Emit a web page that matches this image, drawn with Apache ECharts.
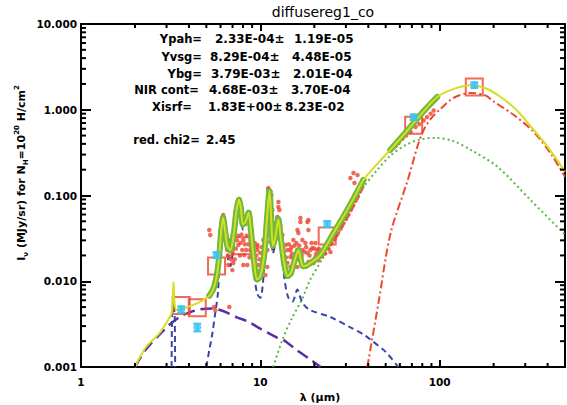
<!DOCTYPE html>
<html>
<head>
<meta charset="utf-8">
<script src="https://cdn.jsdelivr.net/npm/echarts@6/dist/echarts.min.js"></script>
<style>
html,body{margin:0;padding:0;background:#fff;}
#chart{width:567px;height:405px;}
</style>
</head>
<body>
<div id="chart"></div>
<script>
// ---- axis ticks and labels ----
const xRange = [1, 500];
const yRange = [0.001, 10];
const xTickValues = [1, 10, 100];
const xTickLabels = ['1', '10', '100'];
const yTickValues = [0.001, 0.01, 0.1, 1, 10];
const yTickLabels = ['0.001', '0.010', '0.100', '1.000', '10.000'];
const xMinorTicks = [2, 3, 4, 5, 6, 7, 8, 9, 20, 30, 40, 50, 60, 70, 80, 90, 200, 300, 400];
const yMinorTicks = [
  0.002, 0.003, 0.004, 0.005, 0.006, 0.007, 0.008, 0.009,
  0.02, 0.03, 0.04, 0.05, 0.06, 0.07, 0.08, 0.09,
  0.2, 0.3, 0.4, 0.5, 0.6, 0.7, 0.8, 0.9,
  2, 3, 4, 5, 6, 7, 8, 9
];

// ---- fit results ----
const paramNames = ['Ypah=', 'Yvsg=', 'Ybg=', 'NIR cont=', 'Xisrf='];
const paramValues = ['2.33E-04\u00b1', '8.29E-04\u00b1', '3.79E-03\u00b1', '4.68E-03\u00b1', '1.83E+00\u00b1'];
const paramErrors = ['1.19E-05', '4.48E-05', '2.01E-04', '3.70E-04', '8.23E-02'];
const chi2Label = 'red. chi2=';
const chi2Value = '2.45';

// ---- model: total [lambda (um), I_nu] ----
const totalModel = [
  [2.0, 0.001], [2.3, 0.0017], [2.75, 0.0025], [3.1, 0.0037], [3.2, 0.0042],
  [3.25, 0.0065], [3.28, 0.0098], [3.31, 0.0065], [3.36, 0.0048], [3.5, 0.0046],
  [4.0, 0.0051], [4.5, 0.0056], [4.9, 0.0062], [5.2, 0.0068], [5.45, 0.0080],
  [5.6, 0.0095], [5.75, 0.0125], [5.9, 0.020], [6.05, 0.038], [6.2, 0.055],
  [6.35, 0.040], [6.55, 0.026], [6.8, 0.023], [7.1, 0.035], [7.35, 0.065],
  [7.6, 0.089], [7.8, 0.070], [8.0, 0.046], [8.3, 0.050], [8.6, 0.063],
  [8.85, 0.040], [9.2, 0.018], [9.6, 0.0105], [10.0, 0.0115], [10.5, 0.020],
  [10.9, 0.055], [11.25, 0.112], [11.5, 0.055], [11.75, 0.026], [12.1, 0.032],
  [12.6, 0.053], [13.0, 0.032], [13.6, 0.016], [14.2, 0.0115], [14.8, 0.0125],
  [15.6, 0.018], [16.3, 0.023], [16.8, 0.018], [17.3, 0.0150], [18.0, 0.0152],
  [19.0, 0.0163], [21.6, 0.0202], [25.6, 0.0365], [29.85, 0.0625], [33.9, 0.101],
  [37.6, 0.152], [45, 0.235], [53, 0.34], [65, 0.55], [80, 0.92],
  [97, 1.41], [120, 1.75], [149, 1.93], [180, 1.78], [219, 1.41],
  [270, 0.98], [322, 0.64], [400, 0.37], [500, 0.19]
];
// wavelength ranges covered by the spectra
const irsRange = [5.2, 37.6];
const sedRange = [53, 97];

// ---- model components ----
const pah33 = [
  [3.2, 0.001], [3.21, 0.0025], [3.22, 0.0042], [3.27, 0.0058],
  [3.33, 0.0042], [3.34, 0.0025], [3.35, 0.001]
];
const pahBands = [
  [5.0, 0.001], [5.2, 0.0016], [5.39, 0.0024], [5.61, 0.0043], [5.8, 0.0073],
  [6.0, 0.028], [6.2, 0.050], [6.4, 0.030], [6.6, 0.018], [6.8, 0.0150],
  [7.1, 0.028], [7.35, 0.058], [7.6, 0.084], [7.8, 0.064], [8.0, 0.040],
  [8.3, 0.045], [8.6, 0.058], [8.85, 0.034], [9.2, 0.013], [9.6, 0.0072],
  [10.0, 0.0064], [10.5, 0.014], [10.9, 0.048], [11.25, 0.105], [11.5, 0.048],
  [11.75, 0.021], [12.1, 0.027], [12.6, 0.047], [13.0, 0.026], [13.6, 0.011],
  [14.3, 0.0065], [15.1, 0.0058], [16.1, 0.0080], [16.8, 0.0063], [17.5, 0.0053],
  [19, 0.0046], [24.7, 0.0038], [31.8, 0.0029], [37.6, 0.0024], [41, 0.0021],
  [50, 0.0015], [58.8, 0.001]
];
const nirContinuum = [
  [2.0, 0.001], [2.3, 0.0016], [2.75, 0.0024], [3.0, 0.0029], [3.22, 0.0033],
  [3.6, 0.0039], [4.0, 0.0043], [4.6, 0.0047], [5.45, 0.0048], [6.2, 0.0045],
  [7.4, 0.0038], [8.5, 0.0034], [10, 0.0028], [12.4, 0.0022], [13.3, 0.0021],
  [16, 0.00157], [19, 0.00122], [21.7, 0.001]
];
const vsgModel = [
  [11.8, 0.001], [13.3, 0.0021], [15.0, 0.0037], [17.1, 0.0062], [19.0, 0.0105],
  [20.8, 0.0145], [22.1, 0.018], [25.6, 0.029], [29.85, 0.050], [33.9, 0.085],
  [37.6, 0.125], [45, 0.20], [53, 0.29], [65, 0.39], [78, 0.45],
  [95, 0.47], [120, 0.43], [149, 0.34], [211, 0.215], [322, 0.088], [500, 0.035]
];
const bigGrains = [
  [39.5, 0.001], [45.6, 0.0056], [53.2, 0.036], [66.3, 0.15], [75.4, 0.38],
  [81.4, 0.58], [89, 0.78], [101, 1.02], [120, 1.38], [149, 1.57],
  [180, 1.47], [200, 1.25], [259, 0.87], [335, 0.55], [420, 0.30], [500, 0.165]
];

// ---- observations ----
const irsSpectrum = [
  [5.19, 0.0396], [5.26, 0.0346], [5.53, 0.0050], [5.61, 0.0046], [6.71, 0.0050],
  [6.21, 0.0592], [6.21, 0.0546], [6.35, 0.042],
  [6.54, 0.0231], [6.63, 0.0303], [6.80, 0.0279], [6.98, 0.0328], [6.71, 0.0192],
  [7.07, 0.0163], [6.63, 0.0155], [6.98, 0.0135], [6.90, 0.025],
  [7.54, 0.0265], [7.93, 0.0231], [8.04, 0.0303], [8.14, 0.0202], [8.35, 0.0231],
  [8.46, 0.0155], [8.04, 0.0155], [8.80, 0.0231], [8.80, 0.0303], [7.70, 0.020], [7.30, 0.024],
  [9.14, 0.0177], [9.38, 0.0177], [9.62, 0.0231], [9.62, 0.0251], [9.74, 0.0155],
  [10.0, 0.0135], [10.0, 0.0214], [10.39, 0.0177], [10.39, 0.0303], [10.39, 0.0214],
  [10.67, 0.0118], [10.94, 0.0231], [10.94, 0.0147], [9.62, 0.0265],
  [6.6, 0.020], [6.75, 0.026], [6.85, 0.018], [7.0, 0.021], [7.2, 0.018],
  [7.4, 0.030], [7.5, 0.034], [7.75, 0.028], [7.85, 0.035], [8.2, 0.027],
  [8.4, 0.034], [8.6, 0.027], [8.7, 0.019], [8.9, 0.026], [9.0, 0.022],
  [9.3, 0.028], [9.5, 0.020], [9.9, 0.018], [10.2, 0.025], [10.6, 0.028], [10.8, 0.033],
  [11.08, 0.119], [11.08, 0.122], [11.52, 0.101], [11.67, 0.0677], [11.37, 0.0287],
  [11.82, 0.0346], [12.13, 0.0396], [12.45, 0.0561], [12.61, 0.0734], [12.61, 0.0840],
  [12.77, 0.0677], [12.3, 0.045], [12.9, 0.045], [13.1, 0.028], [13.5, 0.022],
  [13.27, 0.0346], [13.80, 0.0265], [14.15, 0.0231], [14.15, 0.0163], [14.71, 0.0231],
  [14.71, 0.0192], [14.71, 0.0147], [15.29, 0.0303], [15.29, 0.0187], [15.29, 0.0147],
  [15.69, 0.0177], [16.10, 0.0231], [16.10, 0.0396], [16.10, 0.0147], [16.31, 0.0365],
  [16.73, 0.0491], [16.73, 0.0546], [16.73, 0.0177], [17.16, 0.0303], [17.16, 0.0231],
  [17.39, 0.0155], [17.84, 0.0279], [18.31, 0.0214], [18.31, 0.0491], [18.54, 0.0518],
  [18.54, 0.0396], [18.54, 0.0168], [19.02, 0.0231], [19.52, 0.0244], [19.78, 0.0163],
  [20.29, 0.0279], [20.29, 0.0192], [20.82, 0.0231], [21.64, 0.0214],
  [13.9, 0.019], [14.4, 0.027], [14.9, 0.025], [15.0, 0.021], [15.5, 0.026],
  [15.9, 0.028], [16.5, 0.026], [17.0, 0.020], [17.6, 0.022], [18.0, 0.025],
  [18.8, 0.020], [19.3, 0.028], [20.0, 0.024], [20.5, 0.021], [21.2, 0.024],
  [23.08, 0.0244], [24.61, 0.0219],
  [21.0, 0.0175], [22.0, 0.0195], [23.0, 0.021], [24.0, 0.024], [25.0, 0.028],
  [26.0, 0.031], [27.0, 0.036], [28.0, 0.041], [29.0, 0.047], [30.0, 0.053],
  [31.0, 0.060], [32.0, 0.068], [33.0, 0.077], [34.0, 0.087], [35.0, 0.098],
  [36.0, 0.112], [37.0, 0.128], [22.5, 0.0215], [24.5, 0.027], [26.5, 0.034],
  [28.5, 0.044], [30.5, 0.057], [32.5, 0.073], [34.5, 0.093], [36.5, 0.118],
  [33.08, 0.183], [34.83, 0.173], [33.5, 0.14], [31.8, 0.16]
];
const sedSpectrum = [
  [55.3, 0.36], [57, 0.38], [59, 0.41], [62.1, 0.46], [65, 0.50], [68.9, 0.55],
  [73.4, 0.63], [77, 0.68], [81.4, 0.75], [85, 0.82], [89.1, 0.90], [92.6, 0.98]
];
const photometry = [
  [3.62, 0.0052], [4.45, 0.0049], [5.7, 0.0151], [7.9, 0.026],
  [23.6, 0.0338], [71.6, 0.66], [156, 1.84]
];
const bandModel = [
  [3.62, 0.0047], [4.45, 0.0029], [5.7, 0.0202], [23.6, 0.0466], [71.6, 0.82], [156, 1.94]
];
const bandModelLow = [0.0043, 0.0026, 0.0186, 0.0430, 0.76, 1.80];
const bandModelHigh = [0.0051, 0.0032, 0.0218, 0.0502, 0.88, 2.08];

// ---- styling ----
const FONT = 'DejaVu Sans';
const C = {
  total: '#d5de22', fit: '#6fb93c', red: '#ec4430', cyan: '#3fc2ee',
  pah: '#3b45a8', nir: '#5a2ea2', vsg: '#58b944', bg: '#ec4a2e'
};

const inRange = (r) => (p) => p[0] >= r[0] && p[0] <= r[1];
const sameValue = (a, b) => Math.abs(Math.log10(a) - Math.log10(b)) < 1e-6;
const fmt = (vals, labels) => (v) => {
  const i = vals.findIndex((t) => sameValue(t, v));
  return i >= 0 ? labels[i] : '';
};

const chart = echarts.init(document.getElementById('chart'), null, { renderer: 'svg' });

const axisLine = { show: true, onZero: false, lineStyle: { color: '#000', width: 2 } };
const majorTick = (len) => ({ inside: true, length: len, lineStyle: { color: '#000', width: 2 } });
const labelStyle = { fontFamily: FONT, fontWeight: 'bold', fontSize: 10.5, color: '#000' };

function lineSeries(data, color, width, type, z, smooth) {
  return {
    type: 'line', data, showSymbol: false, smooth: smooth === undefined ? 0.3 : smooth,
    lineStyle: { color, width, type, cap: 'butt' }, z, silent: true
  };
}

const paramRight = [202, 202, 202, 199, 192];
const valueLeft = [215, 210, 211, 209, 208];
const errorLeft = [294, 292, 293, 291, 285];
const rowY = [39, 57, 74, 90, 107];
const textEls = [];
paramNames.forEach((n, i) => {
  const base = { fill: '#000', textVerticalAlign: 'middle' };
  textEls.push({ type: 'text', x: paramRight[i], y: rowY[i], style: Object.assign({ text: n, textAlign: 'right', font: 'bold 11.5px ' + FONT }, base) });
  textEls.push({ type: 'text', x: valueLeft[i], y: rowY[i], style: Object.assign({ text: paramValues[i], textAlign: 'left', font: 'bold 12px ' + FONT }, base) });
  textEls.push({ type: 'text', x: errorLeft[i], y: rowY[i], style: Object.assign({ text: paramErrors[i], textAlign: 'left', font: 'bold 12px ' + FONT }, base) });
});
textEls.push({ type: 'text', x: 200, y: 140, style: { text: chi2Label, textAlign: 'right', textVerticalAlign: 'middle', font: 'bold 11.5px ' + FONT, fill: '#000' } });
textEls.push({ type: 'text', x: 206, y: 140, style: { text: chi2Value, textAlign: 'left', textVerticalAlign: 'middle', font: 'bold 12px ' + FONT, fill: '#000' } });
textEls.push({ type: 'text', x: 323, y: 12, style: { text: 'diffusereg1_co', textAlign: 'center', textVerticalAlign: 'middle', font: '14px ' + FONT, fill: '#000' } });
textEls.push({ type: 'text', x: 320, y: 397, style: { text: '\u03bb (\u00b5m)', textAlign: 'center', textVerticalAlign: 'middle', font: 'bold 11px ' + FONT, fill: '#000' } });
textEls.push({
  type: 'text', x: 21, y: 173, rotation: Math.PI / 2,
  style: {
    text: '{m|I}{s|\u03bd}{m| (MJy/sr) for N}{s|H}{m|=10}{u|20}{m| H/cm}{u|2}',
    textAlign: 'center', textVerticalAlign: 'middle', fill: '#000',
    rich: {
      m: { fontFamily: FONT, fontWeight: 'bold', fontSize: 11, lineHeight: 16, verticalAlign: 'middle' },
      s: { fontFamily: FONT, fontWeight: 'bold', fontSize: 7, lineHeight: 16, verticalAlign: 'bottom' },
      u: { fontFamily: FONT, fontWeight: 'bold', fontSize: 7, lineHeight: 16, verticalAlign: 'top' }
    }
  }
});

const option = {
  animation: false,
  backgroundColor: '#fff',
  grid: { left: 81, right: 2, top: 24, bottom: 38 },
  xAxis: [
    {
      type: 'log', logBase: 10, min: xRange[0], max: xRange[1], position: 'bottom',
      axisLine, splitLine: { show: false }, axisTick: majorTick(7),
      axisLabel: Object.assign({ margin: 9, formatter: fmt(xTickValues, xTickLabels), showMaxLabel: false }, labelStyle)
    },
    {
      type: 'log', logBase: 10, min: xRange[0], max: xRange[1], position: 'top',
      axisLine, splitLine: { show: false }, axisTick: majorTick(7),
      axisLabel: { show: false }
    }
  ],
  yAxis: [
    {
      type: 'log', logBase: 10, min: yRange[0], max: yRange[1], position: 'left',
      axisLine, splitLine: { show: false }, axisTick: majorTick(10),
      axisLabel: Object.assign({ margin: 4, formatter: fmt(yTickValues, yTickLabels) }, labelStyle)
    },
    {
      type: 'log', logBase: 10, min: yRange[0], max: yRange[1], position: 'right',
      axisLine, splitLine: { show: false }, axisTick: majorTick(10),
      axisLabel: { show: false }
    }
  ],
  graphic: { elements: textEls },
  series: [
    lineSeries(bigGrains, C.bg, 2, [8, 3, 2, 3], 2),
    lineSeries(vsgModel, C.vsg, 2, [2, 3], 2),
    lineSeries(nirContinuum, C.nir, 2.5, [12, 6], 3),
    lineSeries(pah33, C.pah, 2, [6, 4], 3, false),
    lineSeries(pahBands, C.pah, 2, [6, 4], 3),
    {
      type: 'scatter', data: irsSpectrum.concat(sedSpectrum), symbol: 'circle', symbolSize: 4.5,
      itemStyle: { color: C.red }, z: 4, silent: true
    },
    {
      type: 'scatter', data: photometry, symbol: 'rect', symbolSize: 17,
      itemStyle: { color: 'rgba(0,0,0,0)', borderColor: C.red, borderWidth: 2 }, z: 5, silent: true
    },
    {
      type: 'line', data: totalModel.filter(inRange(irsRange)), smooth: 0.3,
      showSymbol: true, symbol: 'circle', symbolSize: 6, itemStyle: { color: C.fit },
      lineStyle: { color: C.fit, width: 6, cap: 'round', join: 'round' }, z: 6, silent: true
    },
    {
      type: 'line', data: totalModel.filter(inRange(sedRange)), smooth: 0.3,
      showSymbol: false, lineStyle: { color: C.fit, width: 6, cap: 'round', join: 'round' }, z: 6, silent: true
    },
    lineSeries(totalModel, C.total, 2, 'solid', 7),
    {
      type: 'custom', z: 8, silent: true,
      data: bandModel.map((p, i) => [p[0], p[1], bandModelLow[i], bandModelHigh[i]]),
      encode: { x: 0, y: [1, 2, 3] },
      renderItem(params, api) {
        const lo = api.coord([api.value(0), api.value(2)]);
        const hi = api.coord([api.value(0), api.value(3)]);
        const st = { stroke: C.cyan, lineWidth: 2 };
        return {
          type: 'group', children: [
            { type: 'line', shape: { x1: lo[0], y1: lo[1], x2: hi[0], y2: hi[1] }, style: st },
            { type: 'line', shape: { x1: lo[0] - 4, y1: lo[1], x2: lo[0] + 4, y2: lo[1] }, style: st },
            { type: 'line', shape: { x1: hi[0] - 4, y1: hi[1], x2: hi[0] + 4, y2: hi[1] }, style: st }
          ]
        };
      }
    },
    {
      type: 'scatter', data: bandModel, symbol: 'circle', symbolSize: 8,
      itemStyle: { color: C.cyan }, z: 9, silent: true
    }
  ]
};
chart.setOption(option);

// Minor ticks on all four sides of the frame, placed through the axis scales
// and drawn as small filled bars pointing into the plot.
const X_MINOR_LEN = 4;
const Y_MINOR_LEN = 5;
const TICK_W = 2;
const xPix = (v) => chart.convertToPixel({ xAxisIndex: 0 }, v);
const yPix = (v) => chart.convertToPixel({ yAxisIndex: 0 }, v);
const frameLeft = xPix(xRange[0]);
const frameRight = xPix(xRange[1]);
const frameBottom = yPix(yRange[0]);
const frameTop = yPix(yRange[1]);
const tickEls = [];
const bar = (x, y, w, h) => ({ type: 'rect', z: 50, silent: true, shape: { x, y, width: w, height: h }, style: { fill: '#000' } });
xMinorTicks.forEach((v) => {
  const x = xPix(v) - TICK_W / 2;
  tickEls.push(bar(x, frameBottom - X_MINOR_LEN, TICK_W, X_MINOR_LEN));
  tickEls.push(bar(x, frameTop, TICK_W, X_MINOR_LEN));
});
yMinorTicks.forEach((v) => {
  const y = yPix(v) - TICK_W / 2;
  tickEls.push(bar(frameLeft, y, Y_MINOR_LEN, TICK_W));
  tickEls.push(bar(frameRight - Y_MINOR_LEN, y, Y_MINOR_LEN, TICK_W));
});
chart.setOption({ graphic: { elements: textEls.concat(tickEls) } });
</script>
</body>
</html>
